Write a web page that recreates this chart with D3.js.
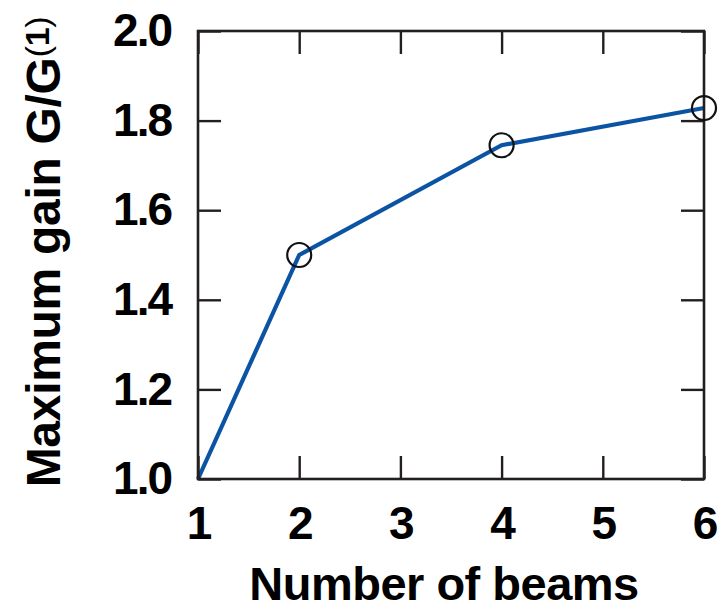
<!DOCTYPE html>
<html>
<head>
<meta charset="utf-8">
<script src="https://cdn.jsdelivr.net/npm/d3@7"></script>
<style>
  html, body { margin: 0; padding: 0; background: #fff; }
  svg text { font-family: "Liberation Sans", Arial, Helvetica, sans-serif; font-weight: bold; fill: #000; }
</style>
</head>
<body>
<svg id="chart" width="719" height="610"></svg>
<script>
// Maximum gain relative to a single beam, by number of beams
const beams = [1, 2, 4, 6];
const gain = [1.0, 1.5, 1.745, 1.828];
// Circle markers are drawn on the multi-beam points
const markedBeams = [2, 4, 6];

const xTicks = [1, 2, 3, 4, 5, 6];
const yTicks = [1.0, 1.2, 1.4, 1.6, 1.8, 2.0];

const frame = { left: 198, right: 704, top: 31, bottom: 479 };
const axisColor = "#231f20";
const lineColor = "#0b54a4";
const tickLen = 23;

const svg = d3.select("#chart");

const x = d3.scaleLinear().domain([1, 6]).range([frame.left, frame.right]);
const y = d3.scaleLinear().domain([1.0, 2.0]).range([frame.bottom, frame.top]);

const points = beams.map((b, i) => ({ b, g: gain[i] }));

// Data line
svg.append("path")
  .datum(points)
  .attr("fill", "none")
  .attr("stroke", lineColor)
  .attr("stroke-width", 4.2)
  .attr("stroke-linejoin", "miter")
  .attr("d", d3.line().x(d => x(d.b)).y(d => y(d.g)));

// Axes with inward ticks
function styleAxis(g) {
  g.select(".domain").remove();
  g.selectAll(".tick line").attr("stroke", axisColor).attr("stroke-width", 2.4);
  g.selectAll(".tick text").attr("fill", "#000").style("font-size", "46px").style("letter-spacing", "-2px");
}

svg.append("g")
  .attr("transform", `translate(0,${frame.bottom})`)
  .call(d3.axisBottom(x).tickValues(xTicks).tickFormat(d3.format("d")).tickSize(-tickLen).tickPadding(27))
  .call(styleAxis);

svg.append("g")
  .attr("transform", `translate(0,${frame.top})`)
  .call(d3.axisTop(x).tickValues(xTicks).tickFormat("").tickSize(-tickLen))
  .call(styleAxis);

svg.append("g")
  .attr("transform", `translate(${frame.left},0)`)
  .call(d3.axisLeft(y).tickValues(yTicks).tickFormat(d3.format(".1f")).tickSize(-tickLen).tickPadding(27))
  .call(styleAxis);

svg.append("g")
  .attr("transform", `translate(${frame.right},0)`)
  .call(d3.axisRight(y).tickValues(yTicks).tickFormat("").tickSize(-tickLen))
  .call(styleAxis);

// Plot frame
svg.append("rect")
  .attr("x", frame.left)
  .attr("y", frame.top)
  .attr("width", frame.right - frame.left)
  .attr("height", frame.bottom - frame.top)
  .attr("fill", "none")
  .attr("stroke", axisColor)
  .attr("stroke-width", 2.6);

// Open circle markers
svg.append("g")
  .selectAll("circle")
  .data(points.filter(d => markedBeams.includes(d.b)))
  .join("circle")
  .attr("cx", d => x(d.b))
  .attr("cy", d => y(d.g))
  .attr("r", 12)
  .attr("fill", "none")
  .attr("stroke", "#111")
  .attr("stroke-width", 2.2);

// Axis titles
svg.append("text")
  .attr("x", (frame.left + frame.right) / 2 - 7)
  .attr("y", 600)
  .attr("text-anchor", "middle")
  .style("font-size", "47px")
  .style("letter-spacing", "-0.5px")
  .text("Number of beams");

const yTitle = svg.append("text")
  .attr("transform", "translate(60,252) rotate(-90)")
  .attr("text-anchor", "middle")
  .style("font-size", "48px")
  .style("letter-spacing", "-0.3px");
yTitle.append("tspan").text("Maximum gain G/G");
const sup = yTitle.append("tspan").attr("dy", -11).style("font-size", "34px");
sup.append("tspan").style("font-weight", "normal").text("(");
sup.append("tspan").text("1");
sup.append("tspan").style("font-weight", "normal").text(")");
</script>
</body>
</html>
